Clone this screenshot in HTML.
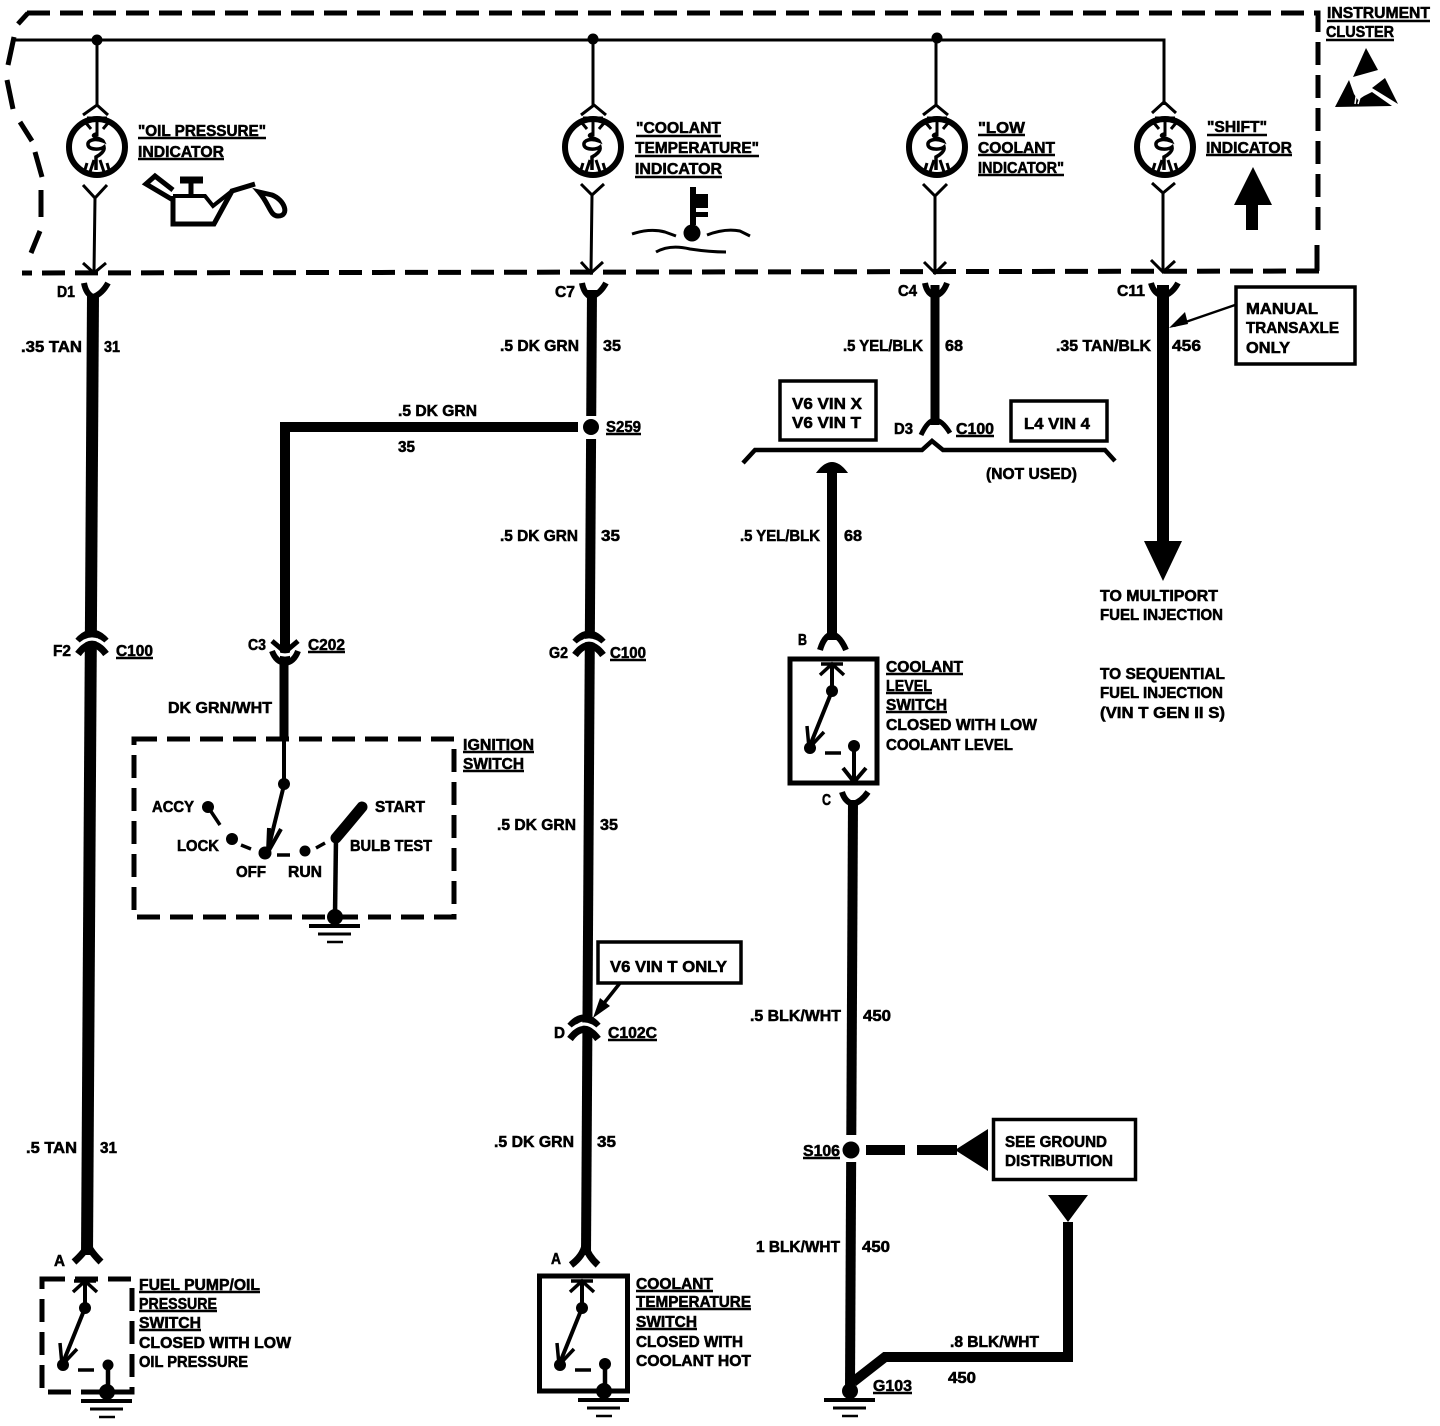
<!DOCTYPE html>
<html><head><meta charset="utf-8"><style>
html,body{margin:0;padding:0;background:#fff}
svg{display:block}
text{font-family:"Liberation Sans",sans-serif;font-weight:bold;font-size:15.5px;fill:#000;stroke:#000;stroke-width:.55}
</style></head><body>
<svg width="1440" height="1426" viewBox="0 0 1440 1426" xmlns="http://www.w3.org/2000/svg">
<defs>
<g id="bulb" fill="none" stroke="#000">
<circle r="28" stroke-width="6"/>
<path d="M-10,-29H10" stroke-width="3"/>
<path d="M0,-28V-11M-11,-24L-6,-18M11,-24L6,-18M-10,16L-13,26M-3,13L-7,25M3,13L7,25M10,16L13,26" stroke-width="3"/>
<path d="M-1,-13C-9,-11 5,-8 6,-6C-2,-9 -10,-7 -9,-2C-8,3 3,3 7,0C8,4 3,8 -1,10V23" stroke-width="3.500"/>
</g>
<g id="cu">
<path d="M-14,-4Q0,-20 14,-4" fill="none" stroke="#000" stroke-width="7"/>
<path d="M-14,1Q0,-13 14,1" fill="none" stroke="#fff" stroke-width="3"/>
<path d="M-14,9Q0,-10 14,9" fill="none" stroke="#000" stroke-width="7"/>
</g>
<g id="arm" fill="none" stroke="#000">
<path d="M-12,11L0,0L12,11M-11,0H11" stroke-width="3.500"/>
<path d="M0,0V27L-23,84" stroke-width="4"/>
<path d="M-23,84L-25,62M-23,84L-8,68" stroke-width="3.500"/>
<circle cy="27" r="6" fill="#000" stroke="none"/>
<circle cx="-22" cy="84" r="6" fill="#000" stroke="none"/>
<path d="M-7,89H9" stroke-width="3.500"/>
</g>
<g id="gnd" stroke="#000" fill="none">
<circle r="8" fill="#000" stroke="none"/>
<path d="M-26,9H25" stroke-width="4"/>
<path d="M-17,17H16" stroke-width="3"/>
<path d="M-8,25H8" stroke-width="2.500"/>
</g>
</defs>

<!-- instrument cluster dashed boundary -->
<path d="M27,13H1318V240" fill="none" stroke="#000" stroke-width="5" stroke-dasharray="23 10"/>
<path d="M1317,245V271" fill="none" stroke="#000" stroke-width="5"/>
<path d="M1319,271L22,273" fill="none" stroke="#000" stroke-width="5" stroke-dasharray="23 10"/>
<path d="M18,24L28,13" fill="none" stroke="#000" stroke-width="5"/>
<path d="M14,37L8,65M7,80L13,109M20,122L32,141M35,152L42,177M41,190V217M40,231L31,253" fill="none" stroke="#000" stroke-width="5"/>

<!-- supply bus -->
<path d="M14,40H1164V100" fill="none" stroke="#000" stroke-width="3"/>
<circle cx="97" cy="40" r="5.500"/><circle cx="593" cy="39" r="5.500"/><circle cx="937" cy="38" r="5.500"/>

<!-- indicator feeds -->
<g fill="none" stroke="#000" stroke-width="3">
<path d="M97,40V105M83,115L97,105L108,115M83,185L95,198L107,185M95,198L94,272M83,263L94,273L106,263"/>
<path d="M593,40V105M581,115L594,105L606,115M581,184L592,195L604,184M592,195L591,272M581,262L591,273L603,262"/>
<path d="M936,40V105M923,115L936,105L948,115M923,184L935,196L947,184M935,196L935,272M924,262L935,273L946,262"/>
<path d="M1164,100V105M1152,113L1164,102L1176,113M1152,183L1163,193L1175,183M1163,193V272M1151,260L1163,272L1175,261"/>
</g>
<use href="#bulb" x="97" y="147"/>
<use href="#bulb" x="593" y="147"/>
<use href="#bulb" x="937" y="147"/>
<use href="#bulb" x="1165" y="147"/>

<!-- oil can -->
<path d="M173,196V224H214L232,191L255,184" fill="none" stroke="#000" stroke-width="5"/>
<path d="M173,196H205L213,206L232,191" fill="none" stroke="#000" stroke-width="4"/>
<path d="M180,180H203" stroke="#000" stroke-width="7"/>
<path d="M191,180V194" stroke="#000" stroke-width="5"/>
<path d="M173,200L146,184L155,176L173,190" fill="none" stroke="#000" stroke-width="5"/>
<path d="M259,192L272,195C285,200 290,216 278,216C270,216 270,205 259,192Z" fill="#fff" stroke="#000" stroke-width="5"/>

<!-- thermometer -->
<path d="M693,187V225" stroke="#000" stroke-width="6"/>
<circle cx="692" cy="233" r="8.500"/>
<path d="M695,194H708V208H695ZM695,212H708V217H695Z"/>
<path d="M632,234Q650,228 665,232L676,236M707,235Q725,228 740,231L750,236M656,252Q670,244 690,249Q710,252 726,252" fill="none" stroke="#000" stroke-width="3"/>

<!-- shift arrow -->
<path d="M1253,167L1272,205H1258V230H1246V205H1234Z"/>

<!-- esd symbol -->
<path d="M1366,48L1378,70L1353,77Z"/>
<path d="M1335,107L1349,80L1354,94L1358,100L1364,96L1372,92L1392,106Z"/>
<path d="M1372,88L1385,78L1398,104Z"/>
<path d="M1355,104L1357,90M1358,104L1361,94" stroke="#fff" stroke-width="1.500"/>

<!-- wires -->
<g fill="none" stroke="#000">
<path d="M93,295L87,1255" stroke-width="12"/>
<path d="M592,290L586,1255" stroke-width="10"/>
<path d="M285,427H578" stroke-width="10"/>
<path d="M285,422V660" stroke-width="10"/>
<path d="M284,660V740" stroke-width="9"/>
<path d="M935,285V425" stroke-width="9"/>
<path d="M1163,285V545" stroke-width="12"/>
<path d="M832,465V640" stroke-width="10"/>
<path d="M853,800L850,1388" stroke-width="10"/>
<path d="M853,1382L885,1357H1068V1222" stroke-width="10"/>
<path d="M865,1150H905M917,1150H957" stroke-width="10"/>
</g>
<path d="M580,416H604V439H580Z" fill="#fff"/>
<circle cx="591" cy="427" r="8"/>
<path d="M838,1135H866V1162H838Z" fill="#fff"/>
<circle cx="851" cy="1150" r="8.500"/>
<path d="M1144,541H1182L1163,581Z"/>
<path d="M955,1150L988,1129V1171Z"/>
<path d="M1048,1195H1088L1068,1222Z"/>
<path d="M818,472Q832,454 846,472L838,472H826Z" fill="#000" stroke="#000" stroke-width="2"/>

<!-- connector Y ends below the cluster -->
<g fill="none" stroke="#000" stroke-width="6">
<path d="M84,283Q86,294 93,297Q102,294 108,283"/>
<path d="M582,283Q584,294 591,297Q600,294 606,283"/>
<path d="M925,283Q927,294 935,296Q943,294 947,283"/>
<path d="M1151,283Q1154,294 1163,296Q1172,294 1178,283"/>
<path d="M842,792Q845,802 853,804Q861,802 868,792"/>
<path d="M820,650Q824,636 832,634Q840,636 846,650" stroke-width="6"/>
<path d="M921,435Q928,420 935,420Q942,420 950,433" stroke-width="5"/>
<path d="M74,1262Q85,1252 88,1245Q91,1252 101,1262" stroke-width="7"/>
<path d="M571,1265Q583,1256 585,1245Q588,1256 598,1265" stroke-width="7"/>
</g>

<!-- in-line connectors -->
<use href="#cu" x="92" y="645"/>
<use href="#cu" x="589" y="646"/>
<use href="#cu" x="584" y="1030"/>
<g fill="none">
<path d="M272,641L285,652L298,641" stroke="#000" stroke-width="5"/>
<path d="M270,648Q285,662 300,648" stroke="#fff" stroke-width="3"/>
<path d="M272,651Q276,662 285,663Q294,662 298,651" stroke="#000" stroke-width="6"/>
</g>

<!-- bus -->
<path d="M743,463L755,450H922L932,441L943,450H1105L1115,461" fill="none" stroke="#000" stroke-width="4.500"/>

<!-- boxes -->
<g fill="#fff" stroke="#000" stroke-width="3.500">
<rect x="780" y="381" width="96" height="59"/>
<rect x="1011" y="401" width="96" height="40"/>
<rect x="1236" y="287" width="119" height="77"/>
<rect x="598" y="942" width="143" height="41"/>
<rect x="993.500" y="1119.500" width="142" height="60"/>
</g>
<path d="M1235,305L1174,326" stroke="#000" stroke-width="2.500"/>
<path d="M1169,328L1185,312L1188,324Z"/>
<path d="M620,983L597,1012" stroke="#000" stroke-width="3.500"/>
<path d="M593,1018L600,998L610,1006Z"/>

<!-- ignition switch -->
<rect x="134" y="739" width="320" height="178" fill="none" stroke="#000" stroke-width="5" stroke-dasharray="23 10"/>
<g fill="none" stroke="#000">
<path d="M284,740V785L268,850" stroke-width="4"/>
<path d="M268,852L269,828M268,852L281,829" stroke-width="4"/>
<path d="M210,810L220,825M241,845L251,849M277,855H290M316,848L325,843" stroke-width="3.500"/>
<path d="M336,838L347,825L362,807" stroke-width="11" stroke-linecap="round"/>
<path d="M336,838L335,915" stroke-width="4.500"/>
</g>
<circle cx="284" cy="784" r="6"/><circle cx="208" cy="807" r="6"/><circle cx="232" cy="839" r="6"/><circle cx="265" cy="853" r="6.500"/><circle cx="305" cy="851" r="5.500"/>
<use href="#gnd" x="335" y="917"/>

<!-- fuel pump switch -->
<rect x="42" y="1279" width="90" height="113" fill="none" stroke="#000" stroke-width="5" stroke-dasharray="23 10"/>
<use href="#arm" x="85" y="1281"/>
<circle cx="108" cy="1365" r="5.500"/>
<path d="M108,1365V1392" stroke="#000" stroke-width="4.500"/>
<use href="#gnd" x="107" y="1392"/>

<!-- coolant temp switch -->
<rect x="539.500" y="1276" width="88" height="115" fill="none" stroke="#000" stroke-width="5"/>
<use href="#arm" x="582" y="1281"/>
<circle cx="605" cy="1364" r="6"/>
<path d="M605,1364V1392" stroke="#000" stroke-width="4.500"/>
<use href="#gnd" x="604" y="1391"/>

<!-- coolant level switch -->
<rect x="790" y="659" width="87" height="124" fill="none" stroke="#000" stroke-width="5"/>
<use href="#arm" x="832" y="664"/>
<circle cx="854" cy="746" r="6"/>
<path d="M854,746V782M843,768L854,782L866,768" fill="none" stroke="#000" stroke-width="4"/>
<use href="#gnd" x="850" y="1391"/>

<!-- underlines -->
<path d="M138,138H266M138,159H224M636,136H721M635,156H759M635,177H722M978,135H1025M978,155H1055M978,175H1064M1207,135H1267M1206,155H1292M1327,21H1430M1326,40H1394M606,434H641M956,436H994M116,658H153M308,652H345M610,660H646M886,674H963M886,693H932M886,712H947M463,752H534M463,771H524M608,1040H657M803,1158H840M873,1393H912M139,1292H260M139,1311H217M139,1330H201M636,1291H713M636,1309H751M636,1329H697" fill="none" stroke="#000" stroke-width="2.500"/>

<!-- labels -->
<g>
<text x="138" y="136" textLength="128" lengthAdjust="spacingAndGlyphs">"OIL PRESSURE"</text>
<text x="138" y="157" textLength="86" lengthAdjust="spacingAndGlyphs">INDICATOR</text>
<text x="636" y="133" textLength="85" lengthAdjust="spacingAndGlyphs">"COOLANT</text>
<text x="635" y="153" textLength="124" lengthAdjust="spacingAndGlyphs">TEMPERATURE"</text>
<text x="635" y="174" textLength="87" lengthAdjust="spacingAndGlyphs">INDICATOR</text>
<text x="978" y="133" textLength="47" lengthAdjust="spacingAndGlyphs">"LOW</text>
<text x="978" y="153" textLength="77" lengthAdjust="spacingAndGlyphs">COOLANT</text>
<text x="978" y="173" textLength="86" lengthAdjust="spacingAndGlyphs">INDICATOR"</text>
<text x="1207" y="132" textLength="60" lengthAdjust="spacingAndGlyphs">"SHIFT"</text>
<text x="1206" y="153" textLength="86" lengthAdjust="spacingAndGlyphs">INDICATOR</text>
<text x="1327" y="18" textLength="103" lengthAdjust="spacingAndGlyphs">INSTRUMENT</text>
<text x="1326" y="37" textLength="68" lengthAdjust="spacingAndGlyphs">CLUSTER</text>

<text x="57" y="297" textLength="18" lengthAdjust="spacingAndGlyphs">D1</text>
<text x="21" y="352" textLength="61" lengthAdjust="spacingAndGlyphs">.35 TAN</text>
<text x="104" y="352" textLength="16" lengthAdjust="spacingAndGlyphs">31</text>
<text x="555" y="297" textLength="20" lengthAdjust="spacingAndGlyphs">C7</text>
<text x="500" y="351" textLength="79" lengthAdjust="spacingAndGlyphs">.5 DK GRN</text>
<text x="603" y="351" textLength="18" lengthAdjust="spacingAndGlyphs">35</text>
<text x="898" y="296" textLength="19" lengthAdjust="spacingAndGlyphs">C4</text>
<text x="843" y="351" textLength="80" lengthAdjust="spacingAndGlyphs">.5 YEL/BLK</text>
<text x="945" y="351" textLength="18" lengthAdjust="spacingAndGlyphs">68</text>
<text x="1117" y="296" textLength="28" lengthAdjust="spacingAndGlyphs">C11</text>
<text x="1056" y="351" textLength="95" lengthAdjust="spacingAndGlyphs">.35 TAN/BLK</text>
<text x="1172" y="351" textLength="29" lengthAdjust="spacingAndGlyphs">456</text>
<text x="1246" y="314" textLength="72" lengthAdjust="spacingAndGlyphs">MANUAL</text>
<text x="1246" y="333" textLength="93" lengthAdjust="spacingAndGlyphs">TRANSAXLE</text>
<text x="1246" y="353" textLength="44" lengthAdjust="spacingAndGlyphs">ONLY</text>

<text x="398" y="416" textLength="79" lengthAdjust="spacingAndGlyphs">.5 DK GRN</text>
<text x="398" y="452" textLength="17" lengthAdjust="spacingAndGlyphs">35</text>
<text x="606" y="432" textLength="35" lengthAdjust="spacingAndGlyphs">S259</text>
<text x="792" y="409" textLength="70" lengthAdjust="spacingAndGlyphs">V6  VIN X</text>
<text x="792" y="428" textLength="69" lengthAdjust="spacingAndGlyphs">V6  VIN T</text>
<text x="894" y="434" textLength="19" lengthAdjust="spacingAndGlyphs">D3</text>
<text x="956" y="434" textLength="38" lengthAdjust="spacingAndGlyphs">C100</text>
<text x="1024" y="429" textLength="66" lengthAdjust="spacingAndGlyphs">L4  VIN 4</text>
<text x="986" y="479" textLength="91" lengthAdjust="spacingAndGlyphs">(NOT USED)</text>
<text x="500" y="541" textLength="78" lengthAdjust="spacingAndGlyphs">.5 DK GRN</text>
<text x="601" y="541" textLength="19" lengthAdjust="spacingAndGlyphs">35</text>
<text x="740" y="541" textLength="80" lengthAdjust="spacingAndGlyphs">.5 YEL/BLK</text>
<text x="844" y="541" textLength="18" lengthAdjust="spacingAndGlyphs">68</text>
<text x="1100" y="601" textLength="118" lengthAdjust="spacingAndGlyphs">TO MULTIPORT</text>
<text x="1100" y="620" textLength="123" lengthAdjust="spacingAndGlyphs">FUEL INJECTION</text>
<text x="1100" y="679" textLength="125" lengthAdjust="spacingAndGlyphs">TO SEQUENTIAL</text>
<text x="1100" y="698" textLength="123" lengthAdjust="spacingAndGlyphs">FUEL INJECTION</text>
<text x="1100" y="718" textLength="125" lengthAdjust="spacingAndGlyphs">(VIN T  GEN II S)</text>

<text x="53" y="656" textLength="18" lengthAdjust="spacingAndGlyphs">F2</text>
<text x="116" y="656" textLength="37" lengthAdjust="spacingAndGlyphs">C100</text>
<text x="248" y="650" textLength="18" lengthAdjust="spacingAndGlyphs">C3</text>
<text x="308" y="650" textLength="37" lengthAdjust="spacingAndGlyphs">C202</text>
<text x="549" y="658" textLength="19" lengthAdjust="spacingAndGlyphs">G2</text>
<text x="610" y="658" textLength="36" lengthAdjust="spacingAndGlyphs">C100</text>
<text x="168" y="713" textLength="104" lengthAdjust="spacingAndGlyphs">DK GRN/WHT</text>
<text x="798" y="645" textLength="9" lengthAdjust="spacingAndGlyphs">B</text>
<text x="886" y="672" textLength="77" lengthAdjust="spacingAndGlyphs">COOLANT</text>
<text x="886" y="691" textLength="46" lengthAdjust="spacingAndGlyphs">LEVEL</text>
<text x="886" y="710" textLength="61" lengthAdjust="spacingAndGlyphs">SWITCH</text>
<text x="886" y="730" textLength="151" lengthAdjust="spacingAndGlyphs">CLOSED WITH LOW</text>
<text x="886" y="750" textLength="127" lengthAdjust="spacingAndGlyphs">COOLANT LEVEL</text>
<text x="822" y="805" textLength="9" lengthAdjust="spacingAndGlyphs">C</text>

<text x="463" y="750" textLength="71" lengthAdjust="spacingAndGlyphs">IGNITION</text>
<text x="463" y="769" textLength="61" lengthAdjust="spacingAndGlyphs">SWITCH</text>
<text x="152" y="812" textLength="42" lengthAdjust="spacingAndGlyphs">ACCY</text>
<text x="375" y="812" textLength="50" lengthAdjust="spacingAndGlyphs">START</text>
<text x="177" y="851" textLength="42" lengthAdjust="spacingAndGlyphs">LOCK</text>
<text x="350" y="851" textLength="82" lengthAdjust="spacingAndGlyphs">BULB TEST</text>
<text x="236" y="877" textLength="30" lengthAdjust="spacingAndGlyphs">OFF</text>
<text x="288" y="877" textLength="34" lengthAdjust="spacingAndGlyphs">RUN</text>

<text x="497" y="830" textLength="79" lengthAdjust="spacingAndGlyphs">.5 DK GRN</text>
<text x="600" y="830" textLength="18" lengthAdjust="spacingAndGlyphs">35</text>
<text x="750" y="1021" textLength="91" lengthAdjust="spacingAndGlyphs">.5 BLK/WHT</text>
<text x="863" y="1021" textLength="28" lengthAdjust="spacingAndGlyphs">450</text>
<text x="610" y="972" textLength="117" lengthAdjust="spacingAndGlyphs">V6  VIN T ONLY</text>
<text x="554" y="1038" textLength="11" lengthAdjust="spacingAndGlyphs">D</text>
<text x="608" y="1038" textLength="49" lengthAdjust="spacingAndGlyphs">C102C</text>

<text x="26" y="1153" textLength="51" lengthAdjust="spacingAndGlyphs">.5 TAN</text>
<text x="100" y="1153" textLength="17" lengthAdjust="spacingAndGlyphs">31</text>
<text x="494" y="1147" textLength="80" lengthAdjust="spacingAndGlyphs">.5 DK GRN</text>
<text x="597" y="1147" textLength="19" lengthAdjust="spacingAndGlyphs">35</text>
<text x="803" y="1156" textLength="37" lengthAdjust="spacingAndGlyphs">S106</text>
<text x="756" y="1252" textLength="84" lengthAdjust="spacingAndGlyphs">1 BLK/WHT</text>
<text x="862" y="1252" textLength="28" lengthAdjust="spacingAndGlyphs">450</text>
<text x="1005" y="1147" textLength="102" lengthAdjust="spacingAndGlyphs">SEE GROUND</text>
<text x="1005" y="1166" textLength="108" lengthAdjust="spacingAndGlyphs">DISTRIBUTION</text>
<text x="950" y="1347" textLength="89" lengthAdjust="spacingAndGlyphs">.8 BLK/WHT</text>
<text x="948" y="1383" textLength="28" lengthAdjust="spacingAndGlyphs">450</text>
<text x="873" y="1391" textLength="39" lengthAdjust="spacingAndGlyphs">G103</text>

<text x="54" y="1266" textLength="11" lengthAdjust="spacingAndGlyphs">A</text>
<text x="139" y="1290" textLength="121" lengthAdjust="spacingAndGlyphs">FUEL PUMP/OIL</text>
<text x="139" y="1309" textLength="78" lengthAdjust="spacingAndGlyphs">PRESSURE</text>
<text x="139" y="1328" textLength="62" lengthAdjust="spacingAndGlyphs">SWITCH</text>
<text x="139" y="1348" textLength="152" lengthAdjust="spacingAndGlyphs">CLOSED WITH LOW</text>
<text x="139" y="1367" textLength="109" lengthAdjust="spacingAndGlyphs">OIL PRESSURE</text>
<text x="551" y="1264" textLength="10" lengthAdjust="spacingAndGlyphs">A</text>
<text x="636" y="1289" textLength="77" lengthAdjust="spacingAndGlyphs">COOLANT</text>
<text x="636" y="1307" textLength="115" lengthAdjust="spacingAndGlyphs">TEMPERATURE</text>
<text x="636" y="1327" textLength="61" lengthAdjust="spacingAndGlyphs">SWITCH</text>
<text x="636" y="1347" textLength="107" lengthAdjust="spacingAndGlyphs">CLOSED WITH</text>
<text x="636" y="1366" textLength="115" lengthAdjust="spacingAndGlyphs">COOLANT HOT</text>
</g>
</svg>
</body></html>
